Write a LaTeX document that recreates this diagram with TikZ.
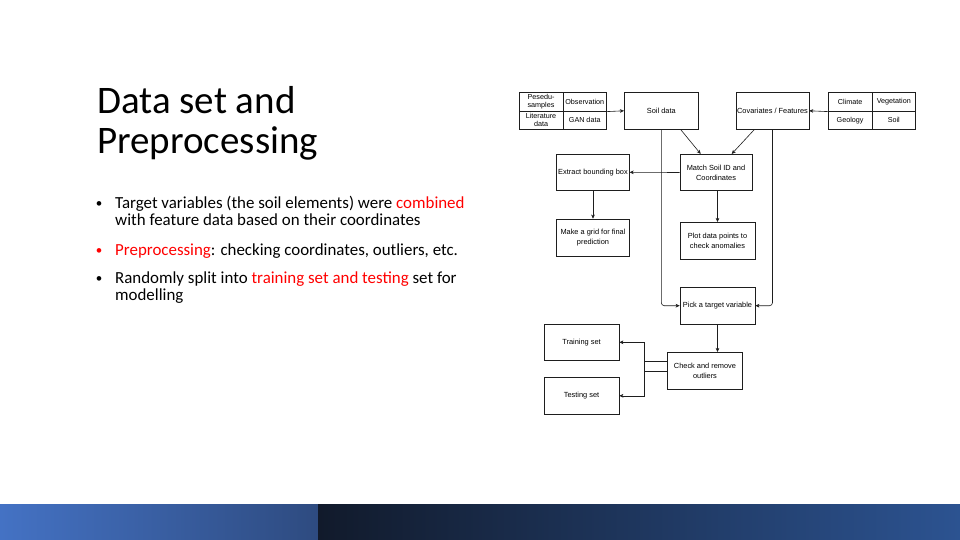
\documentclass[tikz,border=0pt]{standalone}
\usepackage{fontspec}
\setmainfont{Carlito}
\newfontfamily\diagfont{Liberation Sans}
\usetikzlibrary{arrows.meta,calc}

\definecolor{accent}{RGB}{255,0,0}
\definecolor{bandA}{RGB}{68,114,196}
\definecolor{bandB}{RGB}{46,75,128}
\definecolor{bandC}{RGB}{17,26,43}
\definecolor{bandD}{RGB}{44,83,145}
\definecolor{edge}{RGB}{30,30,30}

\tikzset{
  box/.style={draw=edge, line width=0.6pt, inner sep=1pt, align=center,
    font=\diagfont\fontsize{7.4}{10}\selectfont, text=black},
  cell/.style={draw=edge, line width=0.6pt, inner sep=0pt, align=center,
    minimum width=43.7pt, font=\diagfont\fontsize{7.2}{8}\selectfont},
  link/.style={draw=edge, line width=0.6pt,
    -{Stealth[length=4pt,width=3.6pt,inset=1pt]}},
  headline/.style={anchor=base west, inner sep=0pt, font=\fontsize{39}{40}\selectfont},
  bodyline/.style={anchor=base west, inner sep=0pt, font=\fontsize{16.9}{17.7}\selectfont},
  dot/.style={anchor=base, inner sep=0pt, font=\fontsize{13}{14}\selectfont},
}

\begin{document}
\begin{tikzpicture}[x=1pt,y=-1pt]
\useasboundingbox (0,0) rectangle (960,540);
\fill[white] (0,0) rectangle (960,540);

% footer band
\shade[left color=bandA, right color=bandB] (0,504) rectangle (318,540);
\shade[left color=bandC, right color=bandD] (318,504) rectangle (960,540);

% title
\node[headline] (t1) at (97,113.3) {Data set and};
\node[headline] (t2) at (97,153.3) {Preprocessing};

% bullet list
\node[dot] (b1) at (99,207) {•};
\node[bodyline] (l1) at (115,208) {Target variables (the soil elements) were \textcolor{accent}{combined}};
\node[bodyline] (l2) at (115,225.7) {with feature data based on their coordinates};
\node[dot, text=accent] (b2) at (99,254) {•};
\node[bodyline] (l3) at (115,255) {\textcolor{accent}{Preprocessing}: checking coordinates, outliers, etc.};
\node[dot] (b3) at (99,282) {•};
\node[bodyline] (l4) at (115,283) {Randomly split into \textcolor{accent}{training set and testing} set for};
\node[bodyline] (l5) at (115,300.7) {modelling};

% source tables
\node[cell, minimum height=19pt] (p1) at (541,101.8) {Pesedu-\\samples};
\node[cell, minimum height=19pt] (p2) at (584.7,101.8) {Observation};
\node[cell, minimum height=18pt] (p3) at (541,120.3) {Literature\\data};
\node[cell, minimum height=18pt] (p4) at (584.7,120.3) {GAN data};

\node[cell, minimum height=19pt] (q1) at (850.1,101.8) {Climate};
\node[cell, minimum height=19pt] (q2) at (893.8,101.8) {Vegetation};
\node[cell, minimum height=18pt] (q3) at (850.1,120.3) {Geology};
\node[cell, minimum height=18pt] (q4) at (893.8,120.3) {Soil};

% process boxes
\node[box, minimum width=74pt, minimum height=37pt] (soil) at (661.3,110.8) {Soil data};
\node[box, minimum width=71.6pt, minimum height=37pt] (cov) at (772.5,110.8) {Covariates / Features};
\node[box, minimum width=72pt, minimum height=36.5pt] (match) at (716,172.5) {Match Soil ID and\\Coordinates};
\node[box, minimum width=72.6pt, minimum height=36.7pt] (extract) at (593,172.3) {Extract bounding box};
\node[box, minimum width=72.6pt, minimum height=37pt] (grid) at (593,237.5) {Make a grid for final\\prediction};
\node[box, minimum width=75pt, minimum height=37pt] (plot) at (717.5,240.8) {Plot data points to\\check anomalies};
\node[box, minimum width=75pt, minimum height=36.7pt] (pick) at (717.5,305.7) {Pick a target variable};
\node[box, minimum width=74.6pt, minimum height=37pt] (check) at (705,370.8) {Check and remove\\outliers};
\node[box, minimum width=75pt, minimum height=36.7pt] (train) at (581.5,342.3) {Training set};
\node[box, minimum width=75pt, minimum height=37pt] (test) at (581.5,395.8) {Testing set};

% connectors
\draw[link] (p2.south east) -- (soil.west);
\draw[link] (q1.south west) -- (cov.east);
\draw[link] ([xshift=19.4pt]soil.south) -- ([xshift=-15.3pt]match.north);
\draw[link] ([xshift=-18.2pt]cov.south) -- ([xshift=15.7pt]match.north);
\draw[link] (match.west) -- (extract.east);
\draw[link] (extract.south) -- (grid.north);
\draw[link] ([xshift=1.5pt]match.south) -- ([xshift=1.5pt]match.south |- plot.north);
\draw[link, rounded corners=3pt] (soil.south) |- (pick.west);
\draw[link, rounded corners=3pt] (cov.south) |- (pick.east);
\draw[link] (pick.south) -- (pick.south |- check.north);
\draw[link] (check.west) -| (644,342.3) -- (train.east);
\draw[link] ([yshift=10pt]check.west) -| (644,395.8) -- (test.east);
\end{tikzpicture}
\end{document}
